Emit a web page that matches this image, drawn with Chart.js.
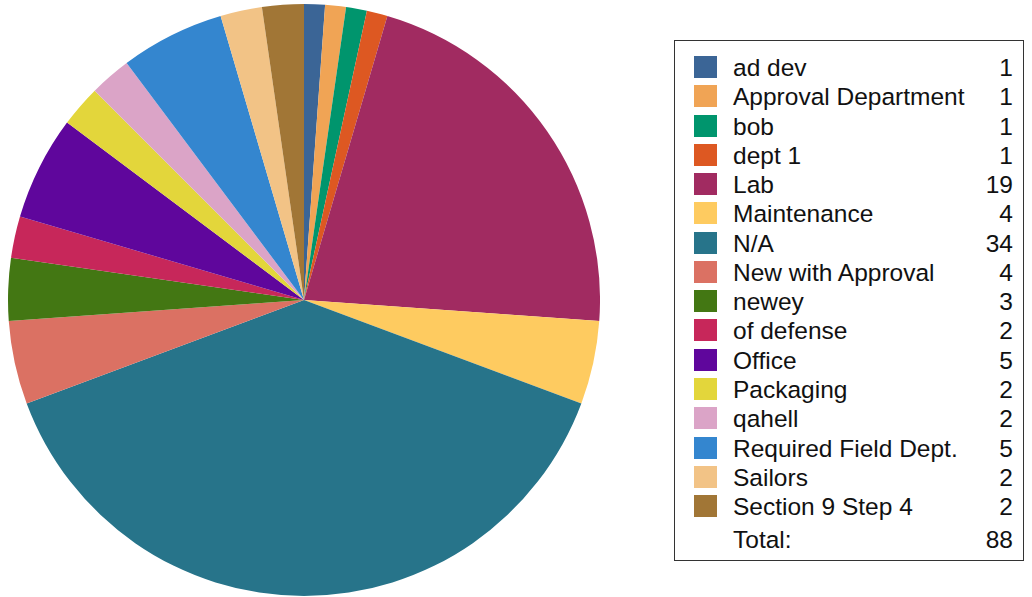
<!DOCTYPE html>
<html>
<head>
<meta charset="utf-8">
<script src="https://cdn.jsdelivr.net/npm/chart.js@4/dist/chart.umd.min.js"></script>
<style>
    body { margin: 0; background: #fff; width: 1032px; height: 597px; position: relative; overflow: hidden; font-family: "Liberation Sans", Arial, sans-serif; }
    #pieBox { position: absolute; left: 8px; top: 4px; width: 592px; height: 592px; }
    #legend { position: absolute; left: 674px; top: 40px; width: 350px; height: 521px; border: 1px solid #333; box-sizing: border-box; }
    .row { position: absolute; left: 0; width: 100%; height: 22px; font-size: 24.5px; line-height: 22px; color: #111; }
    .sw { position: absolute; left: 19px; top: 0; width: 23px; height: 22px; }
    .lbl { position: absolute; left: 58px; top: 1px; white-space: nowrap; }
    .val { position: absolute; right: 10px; top: 1px; }
</style>
</head>
<body>
<div id="pieBox"><canvas id="myChart"></canvas></div>
<div id="legend"></div>
<script>
var labels = ["ad dev", "Approval Department", "bob", "dept 1", "Lab", "Maintenance", "N/A", "New with Approval", "newey", "of defense", "Office", "Packaging", "qahell", "Required Field Dept.", "Sailors", "Section 9 Step 4"];
var counts = [1, 1, 1, 1, 19, 4, 34, 4, 3, 2, 5, 2, 2, 5, 2, 2];
var colours = ["#3b6596", "#f0a455", "#00956d", "#dd5822", "#a12b61", "#fecb60", "#27748a", "#db7163", "#437713", "#c7275a", "#5f069c", "#e3d63b", "#dba4c7", "#3486cf", "#f2c386", "#a17636"];

var ctx = document.getElementById('myChart').getContext('2d');
var myChart = new Chart(ctx, {
    type: 'pie',
    data: {
        labels: labels,
        datasets: [{
            data: counts,
            backgroundColor: colours,
            borderWidth: 0
        }]
    },
    options: {
        responsive: true,
        maintainAspectRatio: false,
        animation: false,
        layout: { padding: 0 },
        plugins: {
            legend: { display: false },
            tooltip: { enabled: false }
        }
    }
});

// legend box with counts, drawn as html
var legend = document.getElementById("legend");
function addRow(top, colour, label, value) {
    var row = document.createElement("div");
    row.className = "row";
    row.style.top = top + "px";
    if (colour) {
        var sw = document.createElement("div");
        sw.className = "sw";
        sw.style.background = colour;
        row.appendChild(sw);
    }
    var l = document.createElement("div");
    l.className = "lbl";
    l.textContent = label;
    row.appendChild(l);
    var v = document.createElement("div");
    v.className = "val";
    v.textContent = value;
    row.appendChild(v);
    legend.appendChild(row);
}
for (let i = 0; i < labels.length; i++) {
    addRow(15 + i * 29.27, colours[i], labels[i], counts[i]);
}
addRow(15 + 16 * 29.27 + 4, null, "Total:", counts.reduce((a, b) => a + b, 0));
</script>
</body>
</html>
